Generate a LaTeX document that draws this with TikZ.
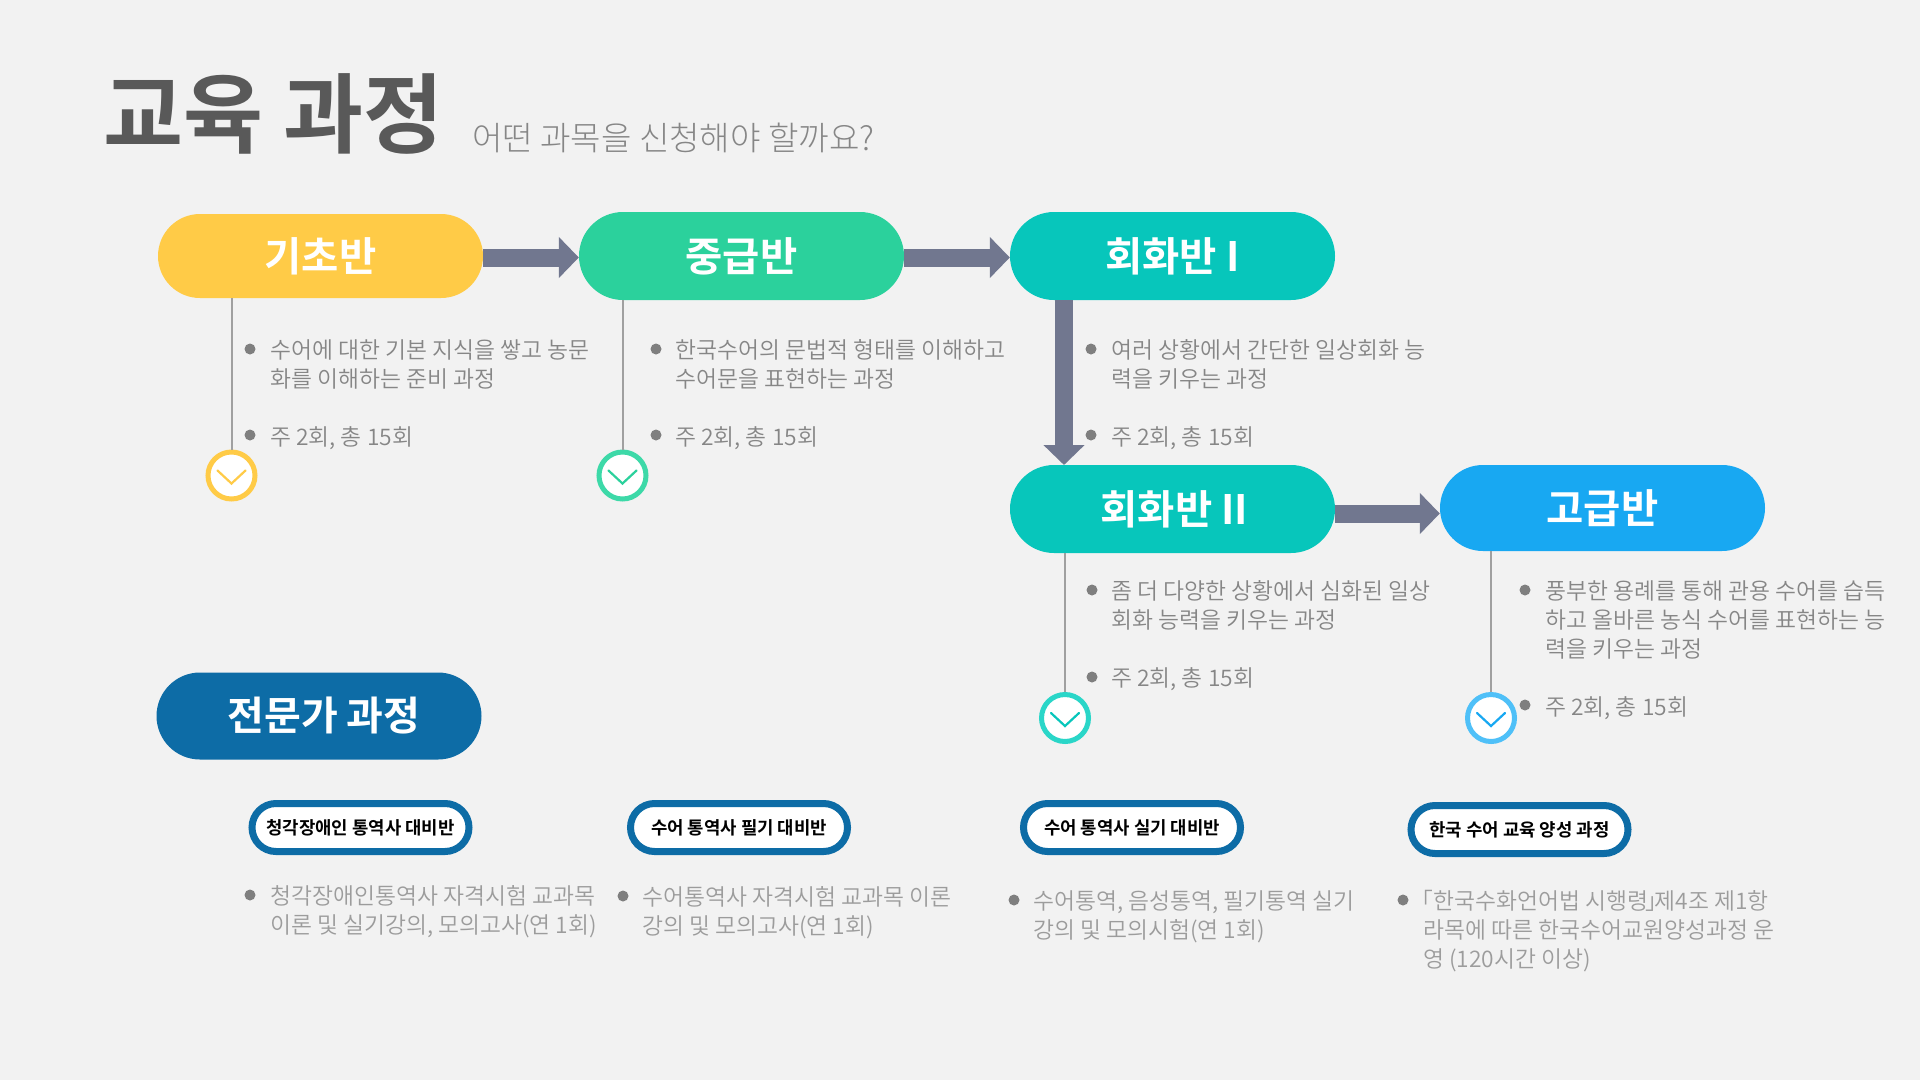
\documentclass[tikz,border=0pt]{standalone}
\usepackage{fontspec}
\setmainfont{Noto Sans CJK KR}
\newfontfamily\krlight{Noto Sans CJK KR Light}
\newfontfamily\krdemi{Noto Sans CJK KR DemiLight}
\newfontfamily\krbold{Noto Sans CJK KR Bold}
\usetikzlibrary{shapes.misc,arrows.meta}
\definecolor{bgc}{HTML}{F2F2F2}
\definecolor{yel}{HTML}{FFCB47}
\definecolor{grn}{HTML}{2BD19C}
\definecolor{tea}{HTML}{07C6BB}
\definecolor{blu}{HTML}{18A8F2}
\definecolor{nav}{HTML}{0D6CA6}
\definecolor{arr}{HTML}{71778F}
\definecolor{lin}{HTML}{A0A0A0}
\definecolor{bulc}{HTML}{7F7F7F}
\definecolor{txt}{HTML}{868686}
\definecolor{txtb}{HTML}{9C9C9C}
\definecolor{ttl}{HTML}{595959}
\definecolor{ringg}{HTML}{3DD9A8}
\definecolor{ringt}{HTML}{2AD6C8}
\definecolor{ringb}{HTML}{4FC0F8}
\tikzset{
 pill/.style={rounded rectangle,fill=#1,text=white,minimum width=325pt,inner sep=0pt,
   font={\krbold\fontsize{40.5}{44}\selectfont}},
 subpill/.style={rounded rectangle,draw=nav,line width=7pt,fill=white,text=black,minimum width=217pt,minimum height=48pt,inner sep=0pt,
   font={\krbold\fontsize{17.8}{22}\selectfont}},
 flow/.style={draw=arr,line width=18pt,-{Triangle[length=20pt,width=40pt]}},
 vline/.style={draw=lin,line width=2pt},
 ring/.style={circle,draw=#1,line width=5pt,fill=white,minimum size=47pt,inner sep=0pt},
 chev/.style={draw=#1,line width=2.2pt,line cap=round,line join=miter},
 bul/.style={circle,fill=bulc,minimum size=11pt,inner sep=0pt},
 body/.style={anchor=north west,inner sep=0pt,align=left,text=txt,
   font={\krdemi\fontsize{22.8}{29}\selectfont},execute at begin node={\rule{0pt}{17pt}}},
 bodyb/.style={body,text=txtb},
}
\begin{document}
\begin{tikzpicture}[x=1pt,y=-1pt]
\useasboundingbox (0,0) rectangle (1920,1080);
\fill[bgc] (0,0) rectangle (1920,1080);

\node[anchor=west,inner sep=0pt,text=ttl,font={\krbold\fontsize{87}{96}\selectfont}] (title) at (103,114) {교육 과정};
\node[anchor=west,inner sep=0pt,text=txt,font={\krlight\fontsize{33.1}{38}\selectfont}] (sub) at (472,137.5) {어떤 과목을 신청해야 할까요?};

% main pills
\node[pill=yel,minimum height=84pt] (p1) at (320.5,256) {기초반};
\node[pill=grn,minimum height=88pt] (p2) at (741.5,256) {중급반};
\node[pill=tea,minimum height=88pt] (p3) at (1172.5,256) {회화반 I};
\node[pill=tea,minimum height=88pt] (p4) at (1172.5,509) {\kern4pt\raisebox{-2pt}{회화반 II}};
\node[pill=blu,minimum height=86pt] (p5) at (1602.5,508) {고급반};
\node[pill=nav,minimum height=87pt,font={\krbold\fontsize{40}{44}\selectfont}] (p6) at (319,716) {\kern10pt\raisebox{-2pt}{전문가 과정}};

% rings
\node[ring=yel] (c1) at (231.5,475.5) {};
\node[ring=ringg] (c2) at (622.5,475.5) {};
\node[ring=ringt] (c3) at (1065,718) {};
\node[ring=ringb] (c4) at (1491,718) {};
\draw[chev=yel] ([shift={(-14,-5)}]c1.center) -- ([shift={(0,8)}]c1.center) -- ([shift={(14,-5)}]c1.center);
\draw[chev=grn] ([shift={(-14,-5)}]c2.center) -- ([shift={(0,8)}]c2.center) -- ([shift={(14,-5)}]c2.center);
\draw[chev=tea] ([shift={(-14,-5)}]c3.center) -- ([shift={(0,8)}]c3.center) -- ([shift={(14,-5)}]c3.center);
\draw[chev=blu] ([shift={(-14,-5)}]c4.center) -- ([shift={(0,8)}]c4.center) -- ([shift={(14,-5)}]c4.center);

% vertical lines
\draw[vline] (c1 |- p1.south) -- (c1.north);
\draw[vline] (c2 |- p2.south) -- (c2.north);
\draw[vline] (c3 |- p4.south) -- (c3.north);
\draw[vline] (c4 |- p5.south) -- (c4.north);

% flow arrows
\coordinate (vtop) at (1064,300);
\coordinate (vend) at (1064,465);
\draw[flow] ([yshift=-1.5pt]p1.east) -- ([yshift=-1.5pt]p2.west);
\draw[flow] ([yshift=-1.5pt]p2.east) -- ([yshift=-1.5pt]p3.west);
\draw[flow] (vtop) -- (vend);
\draw[flow] ([yshift=-4.5pt]p4.east) -- ([yshift=-5.5pt]p5.west);

% descriptions
\node[bul] (b11) at (250,349) {};
\node[body] (t11) at (270,339) {수어에 대한 기본 지식을 쌓고 농문\\화를 이해하는 준비 과정};
\node[bul] (b12) at (250,435) {};
\node[body] (t12) at (270,426) {주 2회, 총 15회};

\node[bul] (b21) at (656,349) {};
\node[body] (t21) at (675,339) {한국수어의 문법적 형태를 이해하고\\수어문을 표현하는 과정};
\node[bul] (b22) at (656,435) {};
\node[body] (t22) at (675,426) {주 2회, 총 15회};

\node[bul] (b31) at (1091,349) {};
\node[body] (t31) at (1111,339) {여러 상황에서 간단한 일상회화 능\\력을 키우는 과정};
\node[bul] (b32) at (1091,435) {};
\node[body] (t32) at (1111,426) {주 2회, 총 15회};

\node[bul] (b41) at (1092,590) {};
\node[body] (t41) at (1111,580.5) {좀 더 다양한 상황에서 심화된 일상\\회화 능력을 키우는 과정};
\node[bul] (b42) at (1092,677) {};
\node[body] (t42) at (1111,667.5) {주 2회, 총 15회};

\node[bul] (b51) at (1525,590) {};
\node[body] (t51) at (1545,580.5) {풍부한 용례를 통해 관용 수어를 습득\\하고 올바른 농식 수어를 표현하는 능\\력을 키우는 과정};
\node[bul] (b52) at (1525,705) {};
\node[body] (t52) at (1545,696.5) {주 2회, 총 15회};

% specialist sub pills
\node[subpill] (s1) at (360.5,827.5) {청각장애인 통역사 대비반};
\node[subpill] (s2) at (739,827.5) {수어 통역사 필기 대비반};
\node[subpill] (s3) at (1132,827.5) {수어 통역사 실기 대비반};
\node[subpill] (s4) at (1519.5,829.5) {한국 수어 교육 양성 과정};

\node[bul] (b61) at (250,895) {};
\node[bodyb] (t61) at (270,885.5) {청각장애인통역사 자격시험 교과목\\이론 및 실기강의, 모의고사(연 1회)};
\node[bul] (b62) at (623,896) {};
\node[bodyb] (t62) at (642,886.5) {수어통역사 자격시험 교과목 이론\\강의 및 모의고사(연 1회)};
\node[bul] (b63) at (1014,900) {};
\node[bodyb] (t63) at (1033,890.5) {수어통역, 음성통역, 필기통역 실기\\강의 및 모의시험(연 1회)};
\node[bul] (b64) at (1403,900) {};
\node[bodyb] (t64) at (1423,890.5) {\kern-.55em「한국수화언어법 시행령\kern-.12em」\kern-.6em 제4조 제1항\\라목에 따른 한국수어교원양성과정 운\\영 (120시간 이상)};
\end{tikzpicture}
\end{document}
